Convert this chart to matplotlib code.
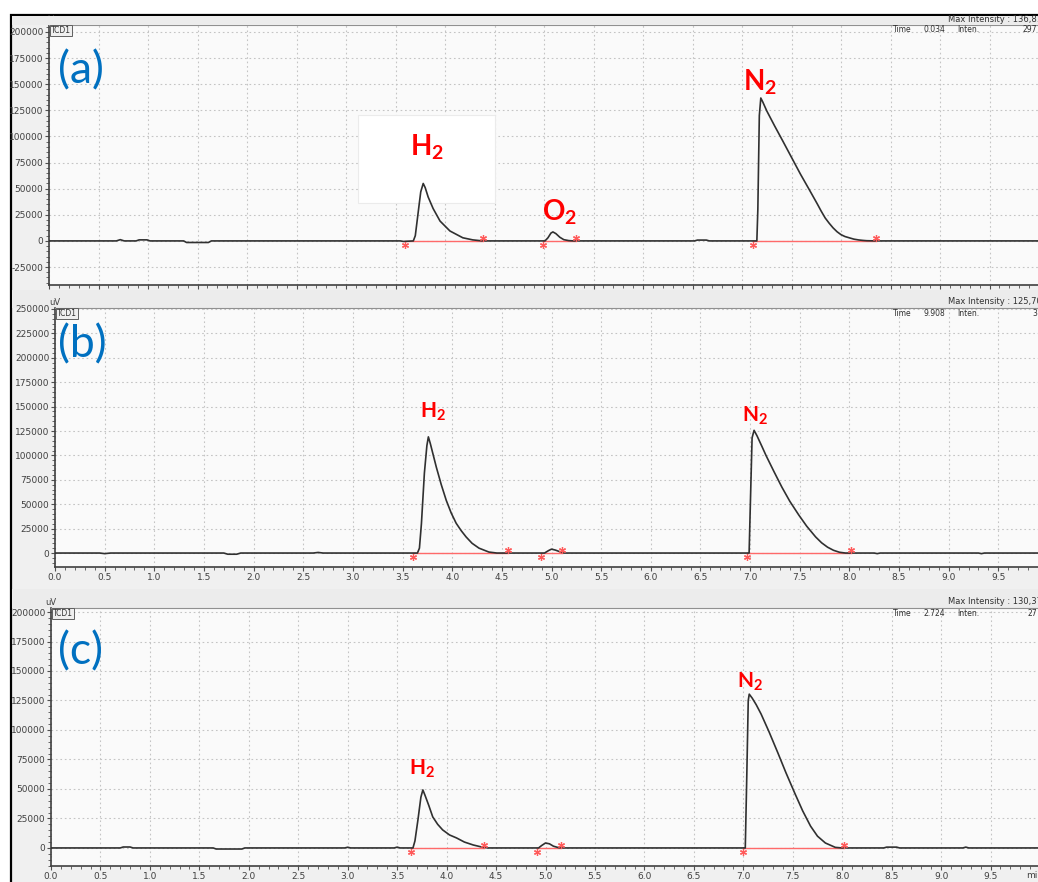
import matplotlib.pyplot as plt
from matplotlib.patches import Rectangle
from matplotlib.ticker import MultipleLocator, FormatStrFormatter, FuncFormatter
from matplotlib.transforms import offset_copy

W, H = 1038, 882

# TCD1 traces: retention time (min) and signal (uV)
t_a = [0.00, 0.68, 0.72, 0.76, 0.88, 0.91, 0.99, 1.02, 1.36, 1.39, 1.61, 1.64,
       3.55, 3.58, 3.68, 3.70, 3.73, 3.755, 3.78, 3.80, 3.83, 3.88, 3.95, 4.05, 4.18, 4.28, 4.38,
       5.01, 5.04, 5.07, 5.09, 5.12, 5.16, 5.20, 5.25, 5.30,
       6.52, 6.55, 6.64, 6.67,
       7.15, 7.16, 7.175, 7.19, 7.21, 7.25, 7.33, 7.41, 7.50, 7.59, 7.68, 7.76, 7.80, 7.84, 7.88,
       7.92, 7.96, 8.00, 8.04, 8.09, 8.13, 8.18, 8.22, 8.26, 8.35, 10.00]
s_a = [0, 0, 1200, 0, 0, 1000, 1000, 0, 0, -1500, -1500, 0,
       0, -500, 0, 5000, 28000, 47000, 55000, 51000, 42000, 31000, 19000, 9500, 3000, 1000, 0,
       0, 3000, 7500, 8600, 7000, 3500, 1200, 300, 0,
       0, 800, 800, 0,
       0, 30000, 120000, 136810, 133000, 124500, 110000, 96000, 80000, 64000, 49000, 35500, 28500, 22000, 17000,
       12500, 8800, 6000, 4200, 2800, 1700, 900, 500, 200, 0, 0]

t_b = [0.00, 0.45, 0.50, 0.56, 1.70, 1.74, 1.83, 1.87, 2.60, 2.65, 2.70,
       3.65, 3.67, 3.69, 3.72, 3.745, 3.76, 3.78, 3.81, 3.84, 3.89, 3.94, 3.99, 4.04, 4.09, 4.14,
       4.20, 4.27, 4.37, 4.45,
       4.93, 4.97, 5.00, 5.04, 5.08, 5.12,
       6.99, 7.00, 7.02, 7.04, 7.07, 7.12, 7.16, 7.24, 7.32, 7.40, 7.49, 7.57, 7.66, 7.72, 7.78,
       7.84, 7.90, 7.96,
       8.25, 8.28, 8.31, 9.30, 9.33, 9.36, 10.00]
s_b = [0, 0, -600, 0, 0, -1200, -1200, 0, 0, 600, 0,
       0, 5000, 30000, 82000, 110000, 119000, 112000, 100000, 88000, 70000, 54000, 41000, 30500, 23000, 16500,
       10000, 5000, 1000, 0,
       0, 2500, 4000, 3000, 1500, 0,
       0, 40000, 118000, 125700, 120000, 109000, 100000, 83500, 67500, 53000, 39000, 27500, 16500, 10500, 6000,
       2800, 800, 0,
       0, -600, 0, 0, -600, 0, 0]

t_c = [0.00, 0.70, 0.73, 0.80, 0.83, 1.64, 1.67, 1.93, 1.96, 2.97, 3.00, 3.03, 3.47, 3.50, 3.53,
       3.66, 3.68, 3.71, 3.74, 3.76, 3.78, 3.82, 3.86, 3.91, 3.96, 4.03, 4.10, 4.18, 4.27, 4.37, 4.42,
       4.93, 4.96, 5.00, 5.04, 5.08, 5.13, 5.16,
       7.02, 7.035, 7.05, 7.06, 7.09, 7.13, 7.18, 7.26, 7.35, 7.43, 7.52, 7.60, 7.68, 7.75, 7.83,
       7.93, 8.00,
       8.42, 8.45, 8.55, 8.58, 9.22, 9.25, 9.28, 10.00]
s_c = [0, 0, 800, 800, 0, 0, -900, -900, 0, 0, 600, 0, 0, 700, 0,
       0, 6000, 23700, 43000, 49200, 45000, 36000, 26300, 20000, 15300, 11000, 8500, 5000, 2500, 500, 0,
       0, 2000, 4200, 3500, 1500, 300, 0,
       0, 60000, 125000, 130370, 127000, 121500, 113500, 98500, 80500, 64000, 46500, 31500, 18500, 10000, 4200,
       500, 0,
       0, 700, 700, 0, 0, 700, 0, 0]

# integration start / end marks (min)
starts_a = [3.60, 4.99, 7.11]
ends_a = [4.38, 5.32, 8.35]
starts_b = [3.61, 4.89, 6.97]
ends_b = [4.56, 5.11, 8.02]
starts_c = [3.64, 4.91, 7.00]
ends_c = [4.38, 5.16, 8.02]

# cursor readout in the header
cursor_time = ['0.034', '9.908', '2.724']
cursor_inten = ['297', '3', '27']

plt.rcParams['mathtext.fontset'] = 'custom'
plt.rcParams['mathtext.rm'] = 'Lato'
plt.rcParams['mathtext.bf'] = 'Lato:bold'

fig = plt.figure(figsize=(W / 100, H / 100), dpi=100)
fig.patch.set_facecolor('white')


def fx(x):
    return x / W


def fy(y):
    return 1 - y / H


# window background with black frame
fig.add_artist(Rectangle((fx(11), -0.02), 1.0, fy(15) + 0.02, transform=fig.transFigure,
                         fc='#F0F0F0', ec='black', lw=1.6, zorder=0))

panels = [
    dict(t=t_a, s=s_a, starts=starts_a, ends=ends_a, box=(49, 25, 285, 990),
         ylim=(-42200, 206700), band=(16, 25), tag='(a)', tag_y=71, lab_fs=20,
         labels=[('H', 3.82, 81400), ('O', 5.16, 19200), ('N', 7.18, 143700)]),
    dict(t=t_b, s=s_b, starts=starts_b, ends=ends_b, box=(55, 308, 567, 993),
         ylim=(-14300, 251000), band=(290, 308), tag='(b)', tag_y=345, lab_fs=15,
         labels=[('H', 3.81, 138300), ('N', 7.05, 134200)]),
    dict(t=t_c, s=s_c, starts=starts_c, ends=ends_c, box=(51, 608, 866, 989),
         ylim=(-15300, 203400), band=(589, 608), tag='(c)', tag_y=652, lab_fs=15,
         labels=[('H', 3.75, 61900), ('N', 7.07, 135600)]),
]

axes = []
for i, p in enumerate(panels):
    left, top, bottom, width = p['box']
    ax = fig.add_axes([fx(left), fy(bottom), width / W, (bottom - top) / H])
    ax.set_zorder(1 if i == 0 else 6)
    ax.set_facecolor('#FAFAFA')
    ax.set_xlim(0, 10)
    ax.set_ylim(*p['ylim'])

    ax.xaxis.set_major_locator(MultipleLocator(0.5))
    ax.xaxis.set_minor_locator(MultipleLocator(0.1))
    ax.yaxis.set_major_locator(MultipleLocator(25000))
    ax.yaxis.set_minor_locator(MultipleLocator(5000))
    ax.yaxis.set_major_formatter(FormatStrFormatter('%d'))
    if i == 2:
        ax.xaxis.set_major_formatter(FuncFormatter(lambda v, pos: '' if v > 9.9 else f'{v:.1f}'))
    else:
        ax.xaxis.set_major_formatter(FormatStrFormatter('%.1f'))

    ax.grid(which='major', color='#C4C4C4', ls=(0, (1.5, 2.5)), lw=0.8)
    ax.set_axisbelow(True)
    ax.tick_params(which='major', length=3, width=0.8, color='#505050',
                   labelcolor='#404040', labelsize=6.5, pad=1)
    ax.tick_params(which='minor', length=2, width=0.6, color='#505050')
    if i == 0:
        # the time labels of the top panel sit under the next header
        ax.tick_params(axis='x', labelbottom=False)
    for side in ['left', 'bottom']:
        ax.spines[side].set_color('#404040')
        ax.spines[side].set_linewidth(1.2)
    ax.spines['top'].set_color('#909090')
    ax.spines['top'].set_linewidth(0.8)
    ax.spines['right'].set_visible(False)

    # integration baseline and marks
    for s0, e0 in zip(p['starts'], p['ends']):
        ax.plot([s0, e0], [0, 0], color='#FF6A6A', lw=1.0, zorder=2)
    ax.plot(p['starts'], [0] * len(p['starts']), ls='none', marker=(6, 2, 0), ms=5, mew=0.9,
            color='#FF5A5A', zorder=4,
            transform=offset_copy(ax.transData, fig=fig, y=-4, units='dots'))
    ax.plot(p['ends'], [0] * len(p['ends']), ls='none', marker=(6, 2, 0), ms=5, mew=0.9,
            color='#FF5A5A', zorder=4,
            transform=offset_copy(ax.transData, fig=fig, y=3, units='dots'))

    ax.plot(p['t'], p['s'], color='#303030', lw=1.2, zorder=3, solid_joinstyle='round')

    for atom, lx, ly in p['labels']:
        ax.text(lx, ly, r'$\mathbf{' + atom + r'_2}$', color='#FF0000', fontsize=p['lab_fs'],
                ha='center', va='baseline', zorder=5)

    ax.text(0.002, 0.997, 'TCD1', transform=ax.transAxes, ha='left', va='top', fontsize=5.5,
            color='#303030', zorder=5,
            bbox=dict(boxstyle='square,pad=0.15', fc='#EFEFEF', ec='#606060', lw=0.7))
    ax.annotate('uV', xy=(0, 1), xycoords='axes fraction', xytext=(-6, 1),
                textcoords='offset pixels', ha='left', va='bottom', fontsize=6, color='#404040',
                annotation_clip=False)
    axes.append(ax)

    # header band with max intensity and cursor readout
    b0, b1 = p['band']
    fig.add_artist(Rectangle((fx(12), fy(b1)), 1.0, (b1 - b0) / H, transform=fig.transFigure,
                             fc='#ECECEC', ec='none', zorder=5))
    peak = max(p['s'])
    fig.text(fx(948), fy(b1 - 6), f'Max Intensity : {peak:,}', fontsize=6, color='#303030',
             ha='left', va='center', zorder=7)
    fig.text(fx(893), fy(top + 5), 'Time', fontsize=5.5, color='#303030', va='center', zorder=7)
    fig.text(fx(923), fy(top + 5), cursor_time[i], fontsize=5.5, color='#303030', va='center', zorder=7)
    fig.text(fx(957), fy(top + 5), 'Inten.', fontsize=5.5, color='#303030', va='center', zorder=7)
    fig.text(fx(1037), fy(top + 5), cursor_inten[i], fontsize=5.5, color='#303030',
             ha='right', va='center', zorder=7)

    fig.text(fx(58), fy(p['tag_y']), p['tag'], fontsize=32, color='#0070C0', family='Lato',
             ha='left', va='center', zorder=10)

# blank box over the H2 region of panel (a)
axes[0].add_patch(Rectangle((fx(358), fy(203)), (495 - 358) / W, (203 - 115) / H,
                            transform=fig.transFigure, fc='white', ec='#EBEBEB', lw=0.8, zorder=1.5))

fig.text(fx(1026), fy(875), 'min', fontsize=6.5, color='#404040', va='center', zorder=7)

fig.savefig('out.png', dpi=100)
